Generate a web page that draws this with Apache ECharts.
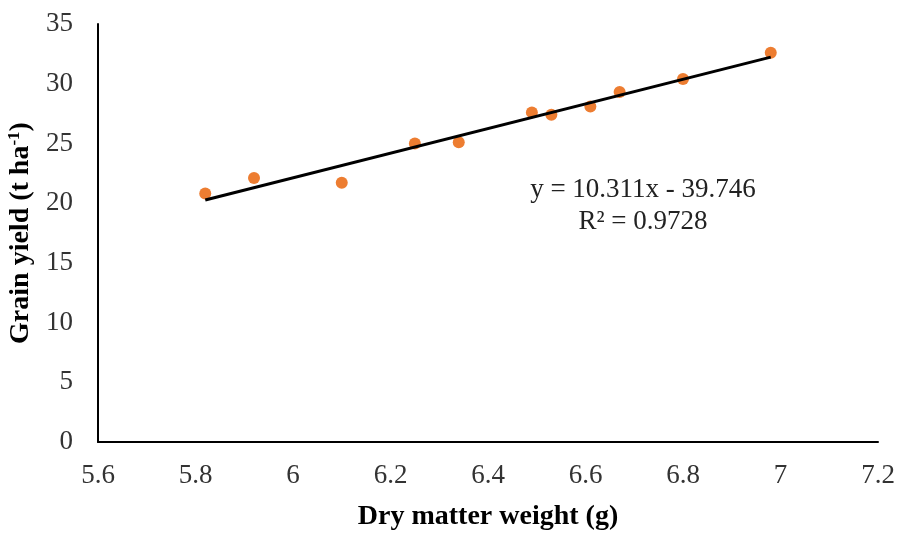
<!DOCTYPE html>
<html>
<head>
<meta charset="utf-8">
<script src="https://cdn.jsdelivr.net/npm/echarts@6/dist/echarts.min.js"></script>
<style>html,body{margin:0;padding:0;background:#fff}#c{width:899px;height:533px}</style>
</head>
<body>
<div id="c"></div>
<script>
const dryMatter = [5.82, 5.92, 6.10, 6.25, 6.34, 6.49, 6.53, 6.61, 6.67, 6.80, 6.98];
const grainYield = [20.8, 22.1, 21.7, 25.0, 25.1, 27.6, 27.4, 28.1, 29.3, 30.4, 32.6];
const trendX = [5.82, 6.98];
const trendY = [20.26, 32.23];
const xTicks = [5.6, 5.8, 6, 6.2, 6.4, 6.6, 6.8, 7, 7.2];
const yTicks = [0, 5, 10, 15, 20, 25, 30, 35];
const equationText = 'y = 10.311x - 39.746';
const r2Text = 'R\u00B2 = 0.9728';

const FONT = '"Liberation Serif", "DejaVu Serif", serif';
const chart = echarts.init(document.getElementById('c'));
chart.setOption({
  animation: false,
  backgroundColor: '#fff',
  grid: { left: 98, right: 21, top: 24, bottom: 91, containLabel: false, outerBoundsMode: 'none' },
  xAxis: {
    type: 'value', min: xTicks[0], max: xTicks[xTicks.length - 1], interval: 0.2,
    name: 'Dry matter weight (g)', nameLocation: 'middle', nameGap: 61,
    nameTextStyle: { fontFamily: FONT, fontWeight: 'bold', fontSize: 28, color: '#000' },
    axisLine: { show: true, lineStyle: { color: '#000', width: 2 } },
    axisTick: { show: false }, splitLine: { show: false },
    axisLabel: { fontFamily: FONT, fontSize: 27, color: '#333', margin: 20,
      formatter: v => String(Math.round(v * 10) / 10) }
  },
  yAxis: {
    type: 'value', min: yTicks[0], max: yTicks[yTicks.length - 1], interval: 5,
    name: '{a|Grain yield (t ha}{s|-1}{a|)}', nameLocation: 'middle', nameGap: 56, nameRotate: 90,
    nameTextStyle: { fontFamily: FONT, fontWeight: 'bold', fontSize: 28, color: '#000',
      rich: { a: { fontFamily: FONT, fontWeight: 'bold', fontSize: 28, color: '#000' },
              s: { fontFamily: FONT, fontWeight: 'bold', fontSize: 17, color: '#000', verticalAlign: 'top', padding: [0, 0, 12, 0] } } },
    axisLine: { show: true, lineStyle: { color: '#000', width: 2 } },
    axisTick: { show: false }, splitLine: { show: false },
    axisLabel: { fontFamily: FONT, fontSize: 27, color: '#333', margin: 25 }
  },
  series: [
    {
      type: 'line', data: trendX.map((x, i) => [x, trendY[i]]), symbol: 'none',
      lineStyle: { color: '#000', width: 3 }, z: 3
    },
    {
      type: 'scatter', data: dryMatter.map((x, i) => [x, grainYield[i]]),
      symbolSize: 12, itemStyle: { color: '#ED7D31', opacity: 1 }, z: 2
    }
  ],
  graphic: [
    { type: 'text', x: 643, y: 190, style: { text: equationText, font: '27px ' + FONT, fill: '#222', align: 'center', verticalAlign: 'middle' } },
    { type: 'text', x: 643, y: 222, style: { text: r2Text, font: '27px ' + FONT, fill: '#222', align: 'center', verticalAlign: 'middle' } }
  ]
});
</script>
</body>
</html>
